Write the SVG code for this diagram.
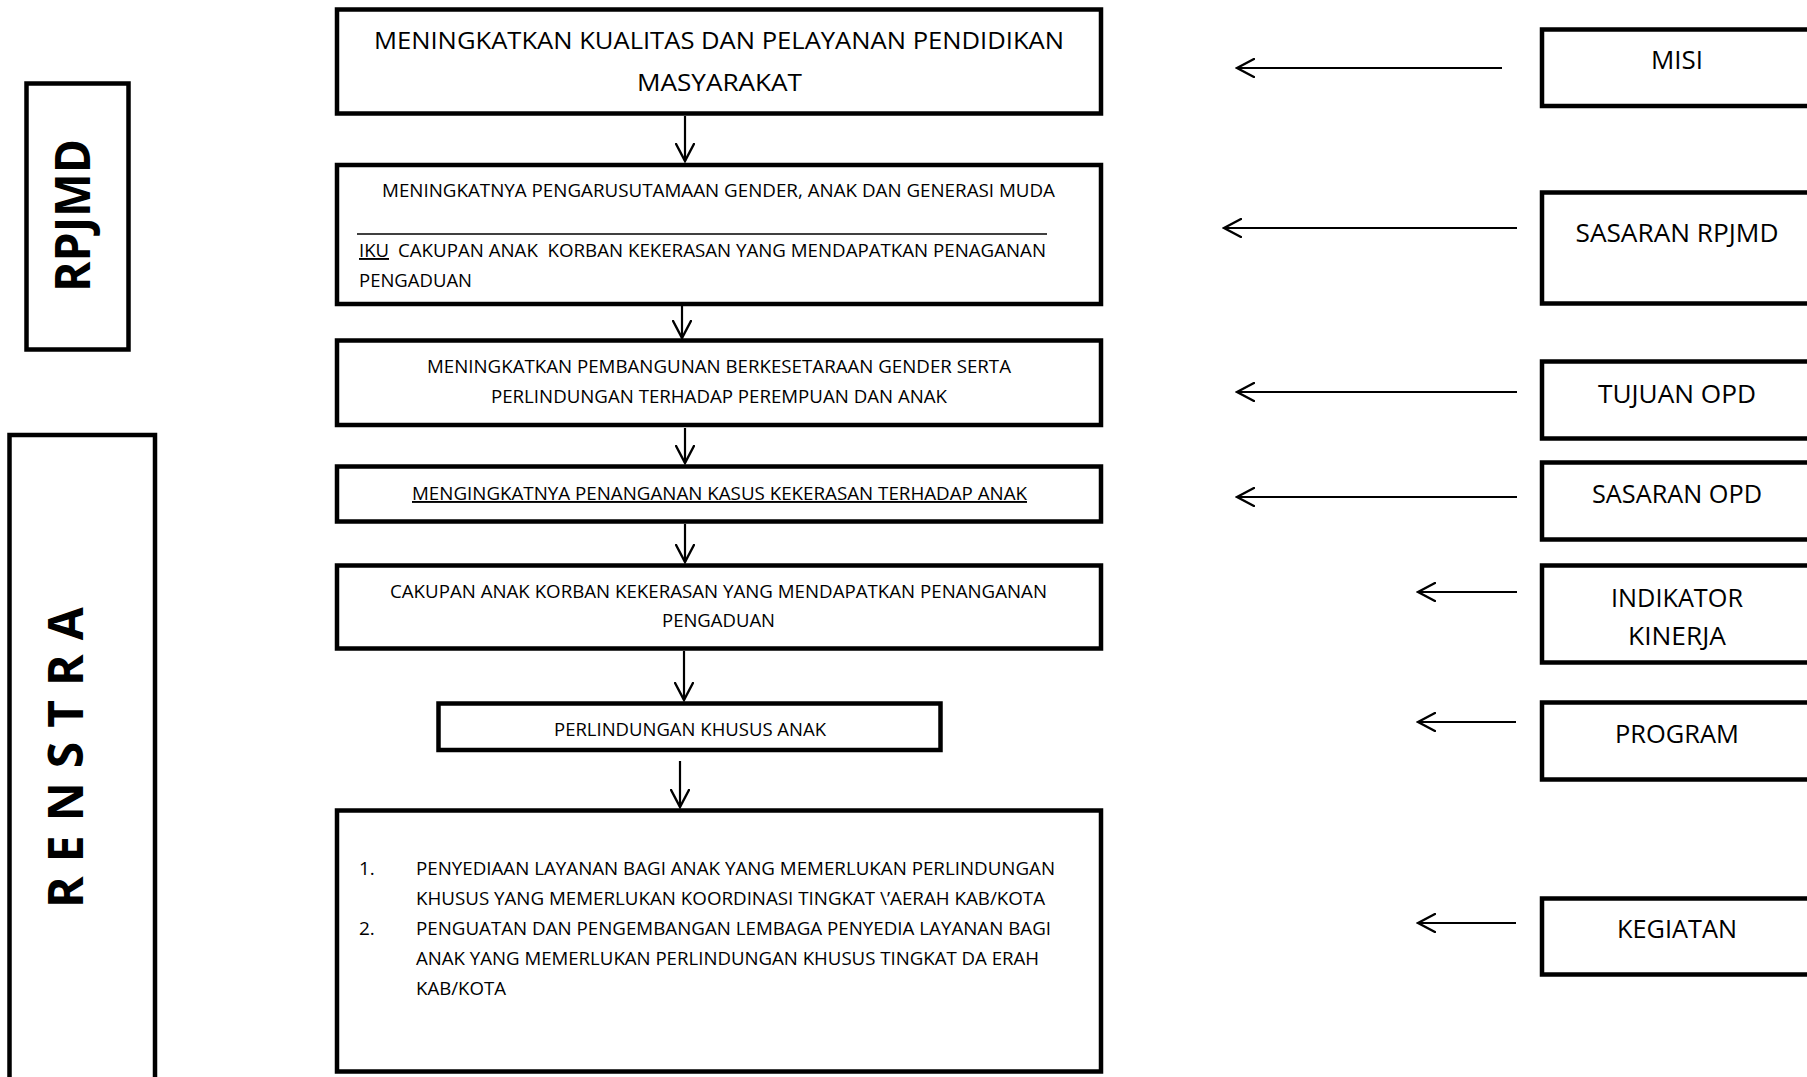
<svg xmlns="http://www.w3.org/2000/svg" width="1807" height="1077" viewBox="0 0 1807 1077">
<defs>
<marker id="arr" viewBox="0 0 20 20" refX="18" refY="10" markerWidth="20" markerHeight="20" markerUnits="userSpaceOnUse" orient="auto">
<path d="M0,0.5 L18,10 L0,19.5" fill="none" stroke="#000" stroke-width="2.4"/>
</marker>
</defs>
<style>
.box{fill:#fff;stroke:#000;stroke-width:4.5}
.t{font-family:"Open Sans","Liberation Sans",sans-serif;fill:#000}
.big{font-size:24px}
.sm{font-size:19px}
.rt{font-size:25px;text-anchor:middle}
.side{font-family:"Open Sans","Liberation Sans",sans-serif;font-weight:bold;font-size:48px;fill:#000}
.con line{stroke:#000;stroke-width:2.2;marker-end:url(#arr)}
</style>
<rect width="1807" height="1077" fill="#fff"/>

<g id="rpjmd">
<rect class="box" x="26.5" y="83.5" width="102" height="266"/>
<text class="side" transform="translate(90,292) rotate(-90)" textLength="153" lengthAdjust="spacingAndGlyphs">RPJMD</text>
</g>
<g id="renstra">
<rect class="box" x="9.5" y="435" width="145.5" height="700"/>
<text class="side" transform="translate(83,908) rotate(-90)" textLength="301" lengthAdjust="spacing">RENSTRA</text>
</g>

<g id="misi-main">
<rect class="box" x="337" y="9.5" width="764" height="104"/>
<text class="t big" x="374" y="49" textLength="690" lengthAdjust="spacingAndGlyphs">MENINGKATKAN KUALITAS DAN PELAYANAN PENDIDIKAN</text>
<text class="t big" x="637" y="91" textLength="165" lengthAdjust="spacingAndGlyphs">MASYARAKAT</text>
</g>

<g id="sasaran-rpjmd-main">
<rect class="box" x="337" y="165" width="764" height="139"/>
<text class="t sm" x="382" y="197" textLength="673" lengthAdjust="spacingAndGlyphs">MENINGKATNYA PENGARUSUTAMAAN GENDER, ANAK DAN GENERASI MUDA</text>
<line x1="357" y1="234" x2="1047" y2="234" stroke="#000" stroke-width="1.5"/>
<text class="t sm" x="359" y="257" textLength="30" lengthAdjust="spacingAndGlyphs" text-decoration="underline">IKU</text>
<text class="t sm" x="398" y="257" textLength="648" lengthAdjust="spacingAndGlyphs" xml:space="preserve">CAKUPAN ANAK  KORBAN KEKERASAN YANG MENDAPATKAN PENAGANAN</text>
<text class="t sm" x="359" y="287" textLength="113" lengthAdjust="spacingAndGlyphs">PENGADUAN</text>
</g>

<g id="tujuan-main">
<rect class="box" x="337" y="340.5" width="764" height="84.5"/>
<text class="t sm" x="427" y="373" textLength="584" lengthAdjust="spacingAndGlyphs">MENINGKATKAN PEMBANGUNAN BERKESETARAAN GENDER SERTA</text>
<text class="t sm" x="491" y="403" textLength="456" lengthAdjust="spacingAndGlyphs">PERLINDUNGAN TERHADAP PEREMPUAN DAN ANAK</text>
</g>

<g id="sasaran-opd-main">
<rect class="box" x="337" y="466.5" width="764" height="55"/>
<text class="t sm" x="412" y="500" textLength="615" lengthAdjust="spacingAndGlyphs" text-decoration="underline">MENGINGKATNYA PENANGANAN KASUS KEKERASAN TERHADAP ANAK</text>
</g>

<g id="indikator-main">
<rect class="box" x="337" y="565.5" width="764" height="83"/>
<text class="t sm" x="390" y="598" textLength="657" lengthAdjust="spacingAndGlyphs">CAKUPAN ANAK KORBAN KEKERASAN YANG MENDAPATKAN PENANGANAN</text>
<text class="t sm" x="662" y="627" textLength="113" lengthAdjust="spacingAndGlyphs">PENGADUAN</text>
</g>

<g id="program-main">
<rect class="box" x="438.5" y="703.5" width="502" height="46.5"/>
<text class="t sm" x="554" y="736" textLength="272" lengthAdjust="spacingAndGlyphs">PERLINDUNGAN KHUSUS ANAK</text>
</g>

<g id="kegiatan-main">
<rect class="box" x="337" y="810.5" width="764" height="261"/>
<text class="t sm" x="359" y="875">1.</text>
<text class="t sm" x="416" y="875" textLength="639" lengthAdjust="spacingAndGlyphs">PENYEDIAAN LAYANAN BAGI ANAK YANG MEMERLUKAN PERLINDUNGAN</text>
<text class="t sm" x="416" y="905" textLength="629" lengthAdjust="spacingAndGlyphs">KHUSUS YANG MEMERLUKAN KOORDINASI TINGKAT \’AERAH KAB/KOTA</text>
<text class="t sm" x="359" y="935">2.</text>
<text class="t sm" x="416" y="935" textLength="635" lengthAdjust="spacingAndGlyphs">PENGUATAN DAN PENGEMBANGAN LEMBAGA PENYEDIA LAYANAN BAGI</text>
<text class="t sm" x="416" y="965" textLength="623" lengthAdjust="spacingAndGlyphs">ANAK YANG MEMERLUKAN PERLINDUNGAN KHUSUS TINGKAT DA ERAH</text>
<text class="t sm" x="416" y="995" textLength="90" lengthAdjust="spacingAndGlyphs">KAB/KOTA</text>
</g>

<g id="label-misi">
<rect class="box" x="1542" y="29.5" width="300" height="76.5"/>
<text class="t rt" x="1677" y="69" textLength="52" lengthAdjust="spacingAndGlyphs">MISI</text>
</g>
<g id="label-sasaran-rpjmd">
<rect class="box" x="1542" y="192.5" width="300" height="111"/>
<text class="t rt" x="1677" y="242" textLength="203" lengthAdjust="spacingAndGlyphs">SASARAN RPJMD</text>
</g>
<g id="label-tujuan-opd">
<rect class="box" x="1542" y="361.5" width="300" height="77"/>
<text class="t rt" x="1677" y="403" textLength="158" lengthAdjust="spacingAndGlyphs">TUJUAN OPD</text>
</g>
<g id="label-sasaran-opd">
<rect class="box" x="1542" y="462.5" width="300" height="77"/>
<text class="t rt" x="1677" y="503" textLength="170" lengthAdjust="spacingAndGlyphs">SASARAN OPD</text>
</g>
<g id="label-indikator">
<rect class="box" x="1542" y="565.5" width="300" height="97"/>
<text class="t rt" x="1677" y="607" textLength="132" lengthAdjust="spacingAndGlyphs">INDIKATOR</text>
<text class="t rt" x="1677" y="645" textLength="98" lengthAdjust="spacingAndGlyphs">KINERJA</text>
</g>
<g id="label-program">
<rect class="box" x="1542" y="702.5" width="300" height="77"/>
<text class="t rt" x="1677" y="743" textLength="124" lengthAdjust="spacingAndGlyphs">PROGRAM</text>
</g>
<g id="label-kegiatan">
<rect class="box" x="1542" y="898.5" width="300" height="76"/>
<text class="t rt" x="1677" y="938" textLength="120" lengthAdjust="spacingAndGlyphs">KEGIATAN</text>
</g>

<g id="connectors" class="con">
<line x1="685" y1="116" x2="685" y2="161"/>
<line x1="682" y1="306" x2="682" y2="338"/>
<line x1="685" y1="428" x2="685" y2="463"/>
<line x1="685" y1="524" x2="685" y2="562"/>
<line x1="684" y1="651" x2="684" y2="700"/>
<line x1="680" y1="761" x2="680" y2="807"/>
<line x1="1502" y1="68" x2="1237" y2="68"/>
<line x1="1517" y1="228" x2="1224" y2="228"/>
<line x1="1517" y1="392" x2="1237" y2="392"/>
<line x1="1517" y1="497" x2="1237" y2="497"/>
<line x1="1517" y1="592" x2="1418" y2="592"/>
<line x1="1516" y1="722" x2="1418" y2="722"/>
<line x1="1516" y1="923" x2="1418" y2="923"/>
</g>
</svg>
